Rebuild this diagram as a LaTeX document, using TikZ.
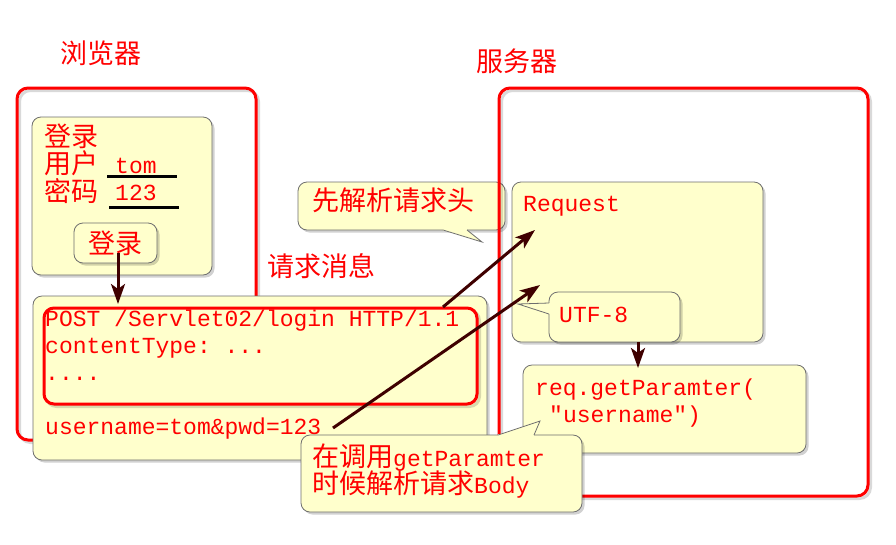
\documentclass[tikz,border=0pt]{standalone}
\usepackage{fontspec}
\setmonofont{Liberation Mono}
\newfontfamily\zhfont{Noto Sans CJK SC}
\usepackage{tikz}
\usetikzlibrary{arrows.meta}
\usepackage{xcolor}
\definecolor{notebg}{HTML}{FFFFCC}
\definecolor{noteedge}{HTML}{6E6E6E}
\definecolor{flowcol}{HTML}{3F0000}
\newcommand\cw[1]{{\ttfamily\fontsize{23}{27}\selectfont #1}}
\newcommand\notetail[3]{%
  \fill[notebg] #1 -- #2 -- #3 -- cycle;
  \draw[notebg, line width=1.6pt] #1 -- #3;
  \draw[noteedge, line width=0.8pt] #1 -- #2 -- #3;}
\tikzset{
  lifted/.style={preaction={fill=black, opacity=0.18, transform canvas={xshift=2.5pt, yshift=-2.5pt}}},
  framelift/.style={preaction={draw=black, opacity=0.15, transform canvas={xshift=2.5pt, yshift=-2.5pt}}},
  note/.style={draw=noteedge, fill=notebg, line width=0.8pt, rounded corners=9pt,
    inner sep=0pt, outer sep=0pt, anchor=north west, lifted},
  frame/.style={draw=red, line width=3pt, rounded corners=11pt,
    inner sep=0pt, outer sep=0pt, anchor=north west, framelift},
  zh/.style={text=red, font=\zhfont\fontsize{27}{30}\selectfont, inner sep=0pt, anchor=base west},
  code/.style={text=red, font=\ttfamily\fontsize{23}{27}\selectfont, inner sep=0pt, anchor=base west},
  field/.style={draw=black, line width=3pt},
  flow/.style={draw=flowcol, line width=3pt, -{Stealth[length=20pt, width=14pt, inset=5pt]}},
}

\begin{document}
\begin{tikzpicture}[x=1pt, y=-1pt]
	\useasboundingbox (0,0) rectangle (896,544);
	% browser side
	\node[zh] (tbrowser) at (60,63) {浏览器};
	\node[frame, minimum width=239pt, minimum height=352pt] (browser) at (17,88) {};
	\node[note, minimum width=180pt, minimum height=158pt] (form) at (32,117) {};
	\node[zh] (lbltitle) at (44,146) {登录};
	\node[zh] (lbluser) at (44,173) {用户};
	\node[zh] (lblpwd) at (44,201) {密码};
	\node[code] (vuser) at (115,173) {tom};
	\node[code] (vpwd) at (115,200) {123};
	\draw[field] (107,176) -- (177,176);
	\draw[field] (109,207) -- (179,207);
	\node[note, minimum width=83pt, minimum height=40pt, text=red,
		font=\zhfont\fontsize{27}{30}\selectfont] (btn) at (74,223) {登录};
	% request message
	\node[zh] (tmsg) at (267,276) {请求消息};
	\node[note, minimum width=454pt, minimum height=164pt] (reqmsg) at (33,296) {};
	\node[frame, fill=notebg, rounded corners=10pt, minimum width=433pt, minimum height=96pt] (head) at (44,308) {};
	\node[code] (line1) at (45,326) {POST /Servlet02/login HTTP/1.1};
	\node[code] (line2) at (45,353) {contentType: ...};
	\node[code] (line3) at (45,380) {....};
	\node[code] (body) at (45,434) {username=tom\&pwd=123};
	% note on the header
	\node[note, minimum width=207pt, minimum height=48pt] (headnote) at (298,182) {};
	\notetail{(443,230)}{(482,242)}{(467,230)}
	\node[zh] (headtxt) at (312,210) {先解析请求头};
	% server side
	\node[zh] (tserver) at (476,71) {服务器};
	\node[frame, minimum width=369pt, minimum height=408pt] (server) at (499,88) {};
	\node[note, minimum width=251pt, minimum height=160pt] (reqobj) at (512,182) {};
	\node[code] (reqtxt) at (523,211) {Request};
	\node[note, minimum width=131pt, minimum height=50pt] (utf) at (549,292) {};
	\notetail{(549,303)}{(518,304)}{(549,314)}
	\node[code] (utftxt) at (559,322) {UTF-8};
	\node[note, minimum width=283pt, minimum height=88pt] (getp) at (523,365) {};
	\node[code] (getp1) at (535,395) {req.getParamter(};
	\node[code] (getp2) at (549,422) {"username")};
	% note on the body
	\node[note, minimum width=281pt, minimum height=77pt] (bodynote) at (301,435) {};
	\notetail{(498,435)}{(540,421)}{(534,435)}
	\node[zh] (bodytxt1) at (312,466) {在调用\cw{getParamter}};
	\node[zh] (bodytxt2) at (312,493) {时候解析请求\cw{Body}};
	% arrows
	\coordinate (sendfrom) at (118,253);
	\coordinate (sendto) at (118,304);
	\coordinate (headfrom) at (443,307);
	\coordinate (headto) at (535,230);
	\coordinate (bodyfrom) at (333,428);
	\coordinate (bodyto) at (540,285);
	\coordinate (encfrom) at (638,342);
	\coordinate (encto) at (638,368);
	\draw[flow] (sendfrom) -- (sendto);
	\draw[flow] (headfrom) -- (headto);
	\draw[flow] (bodyfrom) -- (bodyto);
	\draw[flow] (encfrom) -- (encto);
\end{tikzpicture}
\end{document}
